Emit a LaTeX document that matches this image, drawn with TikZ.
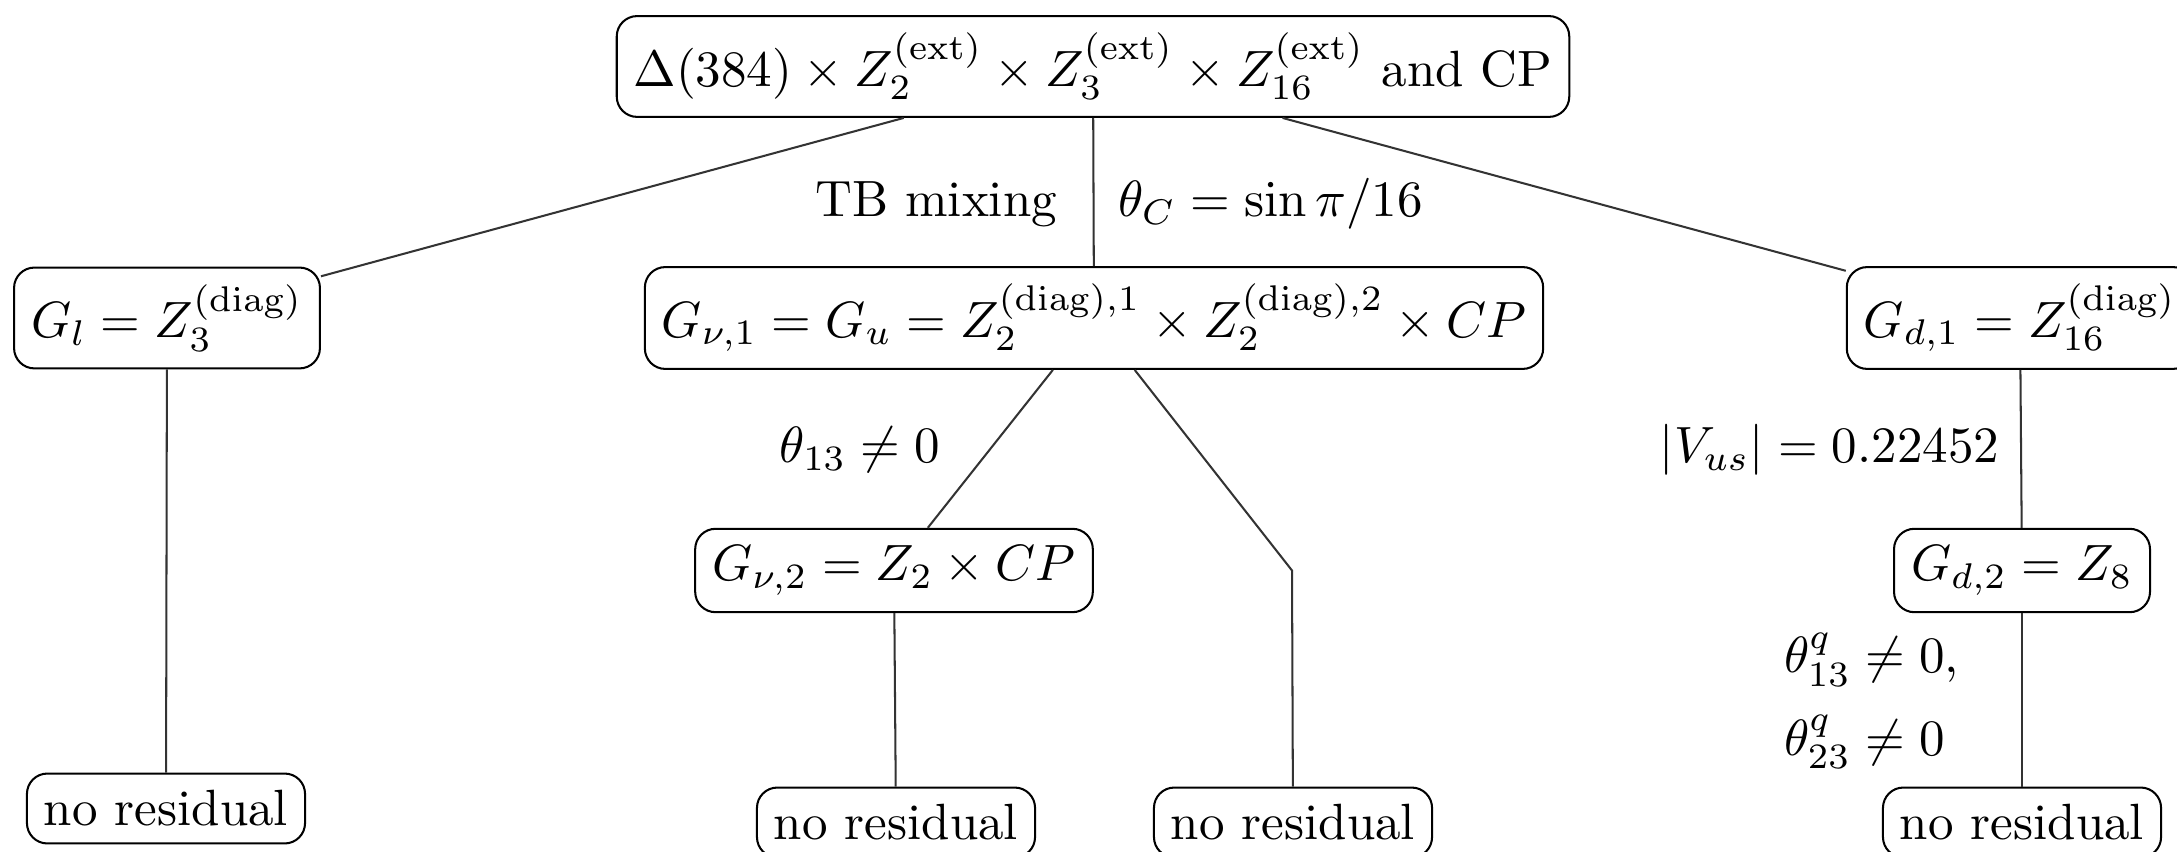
\documentclass[tikz,border=0pt]{standalone}
\begin{document}
\begin{tikzpicture}[x=0.19608pt,y=-0.19608pt,
  box/.style={draw=black, rounded corners=4pt, inner sep=3.33pt},
  conn/.style={draw=black!80, line width=0.4pt},
  lbl/.style={inner sep=0pt}]
\useasboundingbox (0,0) rectangle (2177,852);
\clip (0,0) rectangle (2177,852);
% nodes
\node[box] (top) at (1093,66.5) {$\Delta(384)\times Z_2^{(\mathrm{ext})}\times Z_3^{(\mathrm{ext})}\times Z_{16}^{(\mathrm{ext})}$ and CP};
\node[box] (Gl) at (167,318) {$G_l = Z_3^{(\mathrm{diag})}$};
\node[box] (Gnu1) at (1094,318) {$G_{\nu,1}=G_u=Z_2^{(\mathrm{diag}),1}\times Z_2^{(\mathrm{diag}),2}\times CP$};
\node[box] (Gd1) at (2020,318) {$G_{d,1}=Z_{16}^{(\mathrm{diag})}$};
\node[box] (Gnu2) at (894,570.5) {$G_{\nu,2}=Z_2\times CP$};
\coordinate (c) at (1292,570.5);
\node[box] (Gd2) at (2022,570.5) {$G_{d,2}=Z_8$};
\node[box] (nr1) at (166,808.5) {no residual};
\node[box] (nr2) at (896,822.5) {no residual};
\node[box] (nr3) at (1293,822.5) {no residual};
\node[box] (nr4) at (2022,822.5) {no residual};
% connectors
\draw[conn] (top) -- (Gl);
\draw[conn] (top) -- (Gnu1);
\draw[conn] (top) -- (Gd1);
\draw[conn] (Gl) -- (nr1);
\draw[conn] (Gnu1) -- (Gnu2);
\draw[conn] (Gnu1) -- (c) -- (nr3);
\draw[conn] (Gnu2) -- (nr2);
\draw[conn] (Gd1) -- (Gd2);
\draw[conn] (Gd2) -- (nr4);
% labels
\node[lbl, anchor=base east] (tb) at (1058,217) {TB mixing};
\node[lbl, anchor=base west] (thc) at (1117,217) {$\theta_C=\sin\pi/16$};
\node[lbl, anchor=base east] (th13) at (941,463) {$\theta_{13}\neq 0$};
\node[lbl, anchor=base east] (vus) at (2000,463) {$|V_{us}|=0.22452$};
\node[lbl, anchor=base west] (q13) at (1783,673) {$\theta^q_{13}\neq 0$,};
\node[lbl, anchor=base west] (q23) at (1783,755) {$\theta^q_{23}\neq 0$};
\end{tikzpicture}
\end{document}
